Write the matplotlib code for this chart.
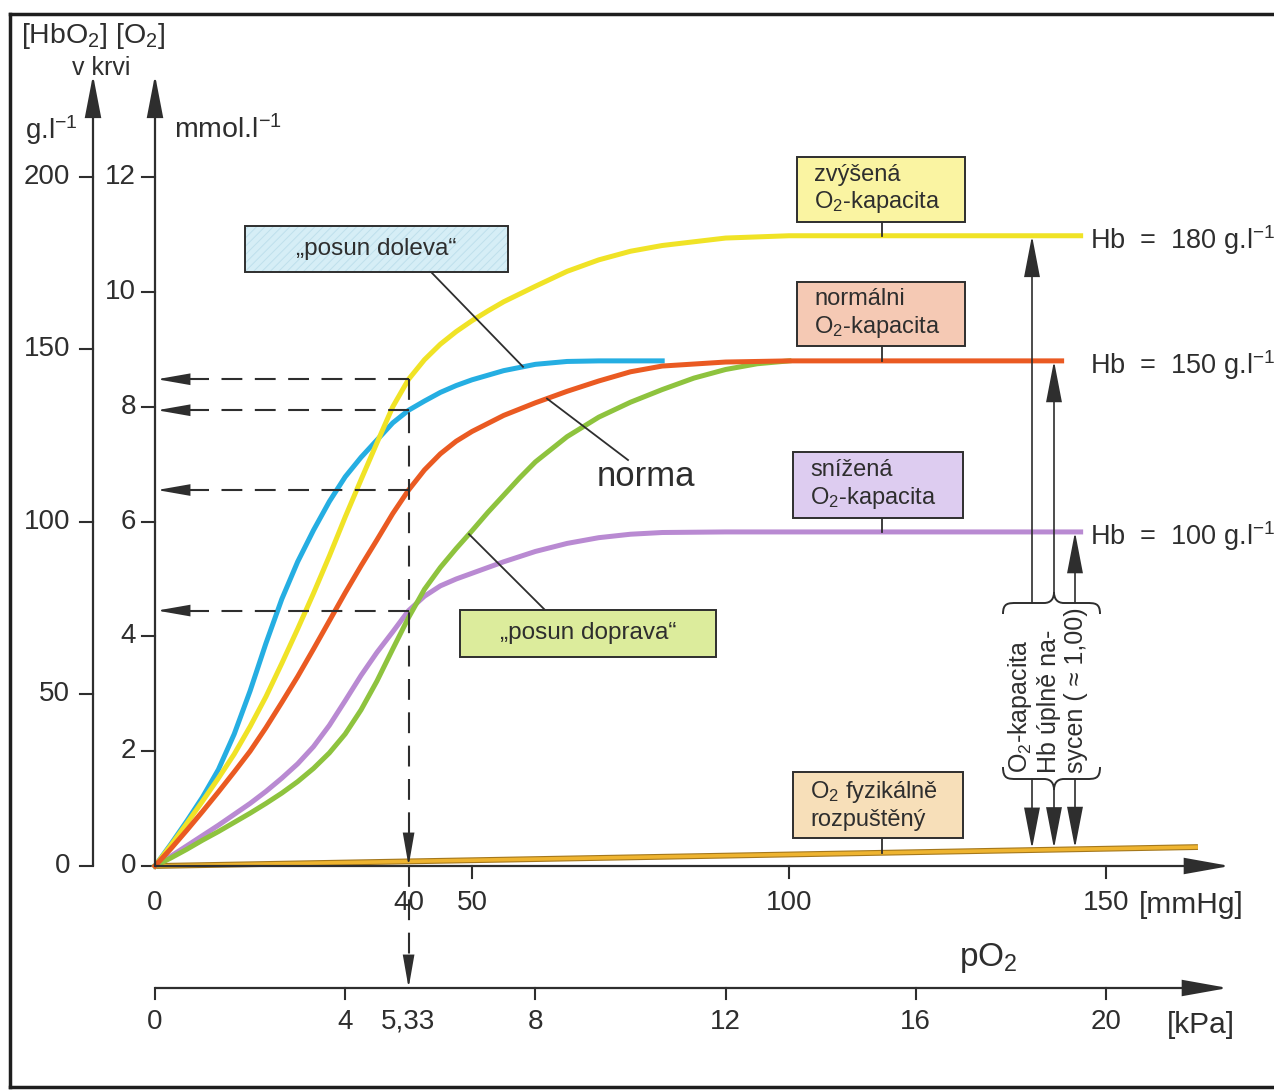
import numpy as np
import matplotlib
matplotlib.use("Agg")
import matplotlib.pyplot as plt
from matplotlib.patches import Rectangle, PathPatch
from matplotlib.path import Path

plt.rcParams['font.family'] = ['Liberation Sans', 'DejaVu Sans']
plt.rcParams['mathtext.fontset'] = 'custom'
plt.rcParams['mathtext.rm'] = 'Liberation Sans'
plt.rcParams['mathtext.it'] = 'Liberation Sans:italic'
plt.rcParams['mathtext.bf'] = 'Liberation Sans:bold'
plt.rcParams['hatch.linewidth'] = 0.7

# ---------------- data (pO2 in mmHg, O2 content in mmol/l) ----------------
doleva_x = [0, 2.5, 5, 7.5, 10, 12.5, 15, 17.5, 20, 22.5, 25, 27.5, 30, 32.5, 35,
            37.5, 40, 42.5, 45, 47.5, 50, 55, 60, 65, 70, 80]
doleva_y = [0, 0.38, 0.78, 1.2, 1.68, 2.3, 3.05, 3.88, 4.65, 5.3, 5.85, 6.35, 6.78,
            7.12, 7.42, 7.72, 7.94, 8.1, 8.25, 8.37, 8.47, 8.63, 8.74, 8.79, 8.8, 8.8]

zvysena_x = [0, 2.5, 5, 7.5, 10, 12.5, 15, 17.5, 20, 22.5, 25, 27.5, 30, 32.5, 35,
             37.5, 40, 42.5, 45, 47.5, 50, 52.5, 55, 60, 65, 70, 75, 80, 90, 100, 146]
zvysena_y = [0, 0.36, 0.74, 1.13, 1.53, 1.95, 2.43, 2.95, 3.53, 4.13, 4.75, 5.4,
             6.08, 6.73, 7.37, 8.0, 8.48, 8.82, 9.09, 9.31, 9.5, 9.67, 9.83, 10.1,
             10.36, 10.56, 10.71, 10.81, 10.94, 10.98, 10.98]

norma_x = [0, 2.5, 5, 7.5, 10, 12.5, 15, 17.5, 20, 22.5, 25, 27.5, 30, 32.5, 35,
           37.5, 40, 42.5, 45, 47.5, 50, 55, 60, 65, 70, 75, 80, 90, 100, 143]
norma_y = [0, 0.3, 0.62, 0.95, 1.29, 1.64, 2.0, 2.41, 2.85, 3.3, 3.78, 4.27, 4.76,
           5.23, 5.68, 6.14, 6.55, 6.9, 7.18, 7.4, 7.57, 7.85, 8.07, 8.27, 8.45,
           8.61, 8.71, 8.78, 8.8, 8.8]

doprava_x = [0, 2.5, 5, 7.5, 10, 12.5, 15, 17.5, 20, 22.5, 25, 27.5, 30, 32.5, 35,
             37.5, 40, 42.5, 45, 47.5, 50, 52.5, 55, 57.5, 60, 65, 70, 75, 80, 85,
             90, 95, 100]
doprava_y = [0, 0.14, 0.29, 0.45, 0.6, 0.76, 0.92, 1.09, 1.27, 1.47, 1.7, 1.97, 2.3,
             2.72, 3.22, 3.78, 4.33, 4.82, 5.2, 5.53, 5.84, 6.16, 6.46, 6.76, 7.04,
             7.48, 7.82, 8.08, 8.3, 8.5, 8.65, 8.75, 8.8]

snizena_x = [0, 2.5, 5, 7.5, 10, 12.5, 15, 17.5, 20, 22.5, 25, 27.5, 30, 32.5, 35,
             37.5, 40, 42.5, 45, 47.5, 50, 55, 60, 65, 70, 75, 80, 90, 146]
snizena_y = [0, 0.17, 0.35, 0.53, 0.71, 0.9, 1.09, 1.3, 1.53, 1.78, 2.08, 2.45, 2.88,
             3.32, 3.72, 4.08, 4.45, 4.7, 4.88, 5.0, 5.1, 5.3, 5.48, 5.62, 5.72,
             5.78, 5.81, 5.82, 5.82]

fyz_x = [0, 164.5]
fyz_y = [0, 0.33]

mmol_ticks = [0, 2, 4, 6, 8, 10, 12]
gl_ticks = [0, 50, 100, 150, 200]
GL_PER_MMOL = 200 / 12
mmhg_labels = [0, 40, 50, 100, 150]
mmhg_tickmarks = [50, 100, 150]
kpa_labels = [0, 4, 5.33, 8, 12, 16, 20]
kpa_tickmarks = [0, 4, 8, 12, 16, 20]
MMHG_PER_KPA = 7.5
pO2_ref = 40
hb_labels = ['Hb  =  180 g.l$^{-1}$', 'Hb  =  150 g.l$^{-1}$', 'Hb  =  100 g.l$^{-1}$']

# ---------------- colours ----------------
C_YEL = '#f0e326'
C_BLUE = '#25aee2'
C_RED = '#ea5a22'
C_GREEN = '#8ec33e'
C_PURP = '#b98ad2'
C_FYZ = '#eeb430'
C_FYZ_EDGE = '#a5781c'
C_INK = '#2e2e2e'

# ---------------- figure / pixel mapping ----------------
W, H = 1274, 1090
PX0, SXP = 155, 6.34
PY0, SYP = 866, 57.4


def dx(px):
    return (px - PX0) / SXP


def dy(py):
    return (PY0 - py) / SYP


fig = plt.figure(figsize=(W / 100, H / 100), dpi=100)
fig.patch.set_facecolor('white')
ax = fig.add_axes([0, 0, 1, 1])
ax.set_xlim(dx(0), dx(W))
ax.set_ylim(dy(H), dy(0))
ax.axis('off')


def arrow(x0, y0, x1, y1, hl=2.2, hw=0.45, lw=1.5, color=C_INK, z=6):
    ax.annotate('', xy=(x1, y1), xytext=(x0, y0),
                arrowprops=dict(arrowstyle=f'-|>,head_length={hl},head_width={hw}',
                                lw=lw, color=color, shrinkA=0, shrinkB=0,
                                mutation_scale=10, joinstyle='miter'),
                annotation_clip=False, zorder=z)


# frame of the scanned figure
ax.plot([dx(10), dx(10)], [dy(14), dy(1087)], color='#1e1e1e', lw=2.5, clip_on=False)
ax.plot([dx(10), dx(W + 5)], [dy(14), dy(14)], color='#1e1e1e', lw=2.5, clip_on=False)
ax.plot([dx(10), dx(W + 5)], [dy(1087), dy(1087)], color='#1e1e1e', lw=2.5, clip_on=False)

# ---------------- axes ----------------
TICK_FS = 20
x_gl = dx(93)
# mmol axis
arrow(0, 0, 0, dy(75), hl=2.6, hw=0.5, lw=1.6)
for v in mmol_ticks:
    ax.plot([dx(142), 0], [v, v], color=C_INK, lw=1.5)
    ax.text(dx(136), v, f'{v}', ha='right', va='center', fontsize=TICK_FS, color=C_INK)
# g/l axis
arrow(x_gl, 0, x_gl, dy(75), hl=2.6, hw=0.5, lw=1.6)
for g in gl_ticks:
    v = g / GL_PER_MMOL
    ax.plot([dx(80), x_gl], [v, v], color=C_INK, lw=1.5)
    ax.text(dx(70), v, f'{g}', ha='right', va='center', fontsize=TICK_FS, color=C_INK)

# mmHg axis
arrow(0, 0, dx(1230), 0, hl=2.8, hw=0.5, lw=1.6)
for t in mmhg_tickmarks:
    ax.plot([t, t], [0, dy(878)], color=C_INK, lw=1.5)
for t in mmhg_labels:
    ax.text(t, dy(903), f'{t}', ha='center', va='center', fontsize=TICK_FS, color=C_INK)
ax.text(dx(1139), dy(905), '[mmHg]', ha='left', va='center', fontsize=21.5, color=C_INK)

# kPa axis
y_kpa = dy(988)
arrow(0, y_kpa, dx(1228), y_kpa, hl=2.8, hw=0.5, lw=1.6)
for t in kpa_tickmarks:
    ax.plot([t * MMHG_PER_KPA] * 2, [y_kpa, dy(999)], color=C_INK, lw=1.5)
for t in kpa_labels:
    lab = f'{t:g}'.replace('.', ',')
    ax.text(t * MMHG_PER_KPA, dy(1022), lab, ha='center', va='center',
            fontsize=TICK_FS, color=C_INK)
ax.text(dx(1167), dy(1025), '[kPa]', ha='left', va='center', fontsize=21.5, color=C_INK)
ax.text(dx(988), dy(958), 'pO$_2$', ha='center', va='center', fontsize=24, color=C_INK)

# axis titles
ax.text(dx(21), dy(36), '[HbO$_2$] [O$_2$]', ha='left', va='center', fontsize=20.5, color=C_INK)
ax.text(dx(101), dy(68), 'v krvi', ha='center', va='center', fontsize=18, color=C_INK)
ax.text(dx(25), dy(130), 'g.l$^{-1}$', ha='left', va='center', fontsize=20, color=C_INK)
ax.text(dx(174), dy(130), 'mmol.l$^{-1}$', ha='left', va='center', fontsize=20.5, color=C_INK)

# ---------------- curves ----------------
LW = 3.6
ax.plot(fyz_x, fyz_y, color=C_FYZ_EDGE, lw=4.2, solid_capstyle='butt', zorder=3)
ax.plot(fyz_x, fyz_y, color=C_FYZ, lw=2.6, solid_capstyle='butt', zorder=3.1)
ax.plot(snizena_x, snizena_y, color=C_PURP, lw=LW, zorder=3.2, solid_joinstyle='round')
ax.plot(doprava_x, doprava_y, color=C_GREEN, lw=LW, zorder=3.3, solid_joinstyle='round')
ax.plot(doleva_x, doleva_y, color=C_BLUE, lw=LW, zorder=3.4, solid_joinstyle='round')
ax.plot(zvysena_x, zvysena_y, color=C_YEL, lw=LW, zorder=3.5, solid_joinstyle='round')
ax.plot(norma_x, norma_y, color=C_RED, lw=LW, zorder=3.6, solid_joinstyle='round')

# ---------------- dashed read-off lines at 40 mmHg ----------------
DASH = (0, (10, 6))
levels = [np.interp(pO2_ref, xs, ys) for xs, ys in
          [(zvysena_x, zvysena_y), (doleva_x, doleva_y),
           (norma_x, norma_y), (snizena_x, snizena_y)]]
for lv in levels:
    ax.plot([pO2_ref, dx(184)], [lv, lv], color=C_INK, lw=1.5, ls=DASH, zorder=4)
    arrow(dx(183), lv, dx(157), lv, hl=2.0, hw=0.35, lw=1.2, z=4)
top = max(levels)
ax.plot([pO2_ref, pO2_ref], [top, dy(845)], color=C_INK, lw=1.5, ls=DASH, zorder=4)
arrow(pO2_ref, dy(842), pO2_ref, 0, hl=2.0, hw=0.35, lw=1.2, z=4)
ax.plot([pO2_ref, pO2_ref], [0, dy(962)], color=C_INK, lw=1.5, ls=DASH, zorder=4)
arrow(pO2_ref, dy(962), pO2_ref, y_kpa, hl=2.0, hw=0.35, lw=1.2, z=4)


# ---------------- labelled boxes ----------------
def box(x0, y0, x1, y1, fc, text, centered=False, hatch=None, fs=17):
    ax.add_patch(Rectangle((dx(x0), dy(y1)), (x1 - x0) / SXP, (y1 - y0) / SYP,
                           facecolor=fc, edgecolor='none', zorder=5))
    if hatch:
        ax.add_patch(Rectangle((dx(x0), dy(y1)), (x1 - x0) / SXP, (y1 - y0) / SYP,
                               facecolor='none', edgecolor='#bfe0ec', lw=0,
                               hatch=hatch, zorder=5.1))
    ax.add_patch(Rectangle((dx(x0), dy(y1)), (x1 - x0) / SXP, (y1 - y0) / SYP,
                           facecolor='none', edgecolor=C_INK, lw=1.4, zorder=5.2))
    if centered:
        ax.text(dx((x0 + x1) / 2), dy((y0 + y1) / 2), text, ha='center', va='center',
                fontsize=fs, color=C_INK, zorder=6)
    else:
        ax.text(dx(x0 + 17), dy((y0 + y1) / 2), text, ha='left', va='center',
                fontsize=fs, color=C_INK, linespacing=1.2, zorder=6)


box(797, 157, 965, 222, '#faf4a2', 'zvýšená\nO$_2$-kapacita')
box(797, 282, 965, 346, '#f5c9b4', 'normálni\nO$_2$-kapacita')
box(793, 452, 963, 518, '#ddccf0', 'snížená\nO$_2$-kapacita')
box(793, 772, 963, 838, '#f7dfb9', 'O$_2$ fyzikálně\nrozpuštěný')
box(245, 226, 508, 272, '#d6eef6', '„posun doleva“', centered=True, hatch='////', fs=17.5)
box(460, 610, 716, 657, '#dcec9c', '„posun doprava“', centered=True, fs=17.5)

# connectors from boxes to curves
xc = dx(882)
for (b, xs, ys) in [(222, zvysena_x, zvysena_y), (346, norma_x, norma_y),
                    (518, snizena_x, snizena_y), (838, fyz_x, fyz_y)]:
    ax.plot([xc, xc], [dy(b), np.interp(xc, xs, ys)], color=C_INK, lw=1.3, zorder=4.5)

# leader lines
x_l = dx(523)
ax.plot([dx(432), x_l], [dy(273), np.interp(x_l, doleva_x, doleva_y)],
        color=C_INK, lw=1.3, zorder=4.5)
x_n = dx(547)
ax.plot([x_n, dx(628)], [np.interp(x_n, norma_x, norma_y), dy(460)],
        color=C_INK, lw=1.3, zorder=4.5)
ax.text(dx(646), dy(477), 'norma', ha='center', va='center', fontsize=25, color=C_INK)
x_p = dx(469)
ax.plot([x_p, dx(545)], [np.interp(x_p, doprava_x, doprava_y), dy(610)],
        color=C_INK, lw=1.3, zorder=4.5)

# Hb labels at the plateaus
for lab, ys in zip(hb_labels, [zvysena_y, norma_y, snizena_y]):
    ax.text(dx(1090), ys[-1] - 0.08, lab, ha='left', va='center', fontsize=19.5, color=C_INK)

# ---------------- O2 capacity arrows and brace ----------------
arrow_px = [1032, 1054, 1075]
curves = [(zvysena_x, zvysena_y), (norma_x, norma_y), (snizena_x, snizena_y)]
brace_top_y = [603, 593, 603]
brace_bot_y = [779, 789, 779]
for px, (xs, ys), bt, bb in zip(arrow_px, curves, brace_top_y, brace_bot_y):
    x = dx(px)
    arrow(x, dy(bt), x, np.interp(x, xs, ys), hl=2.6, hw=0.5, lw=1.2)
    arrow(x, dy(bb), x, np.interp(x, fyz_x, fyz_y) + 0.02, hl=2.6, hw=0.5, lw=1.2)


def brace_path(xl, xr, ye, ys, yc, xm):
    pts = [(xl, ye), (xl, ys), (xl + 5, ys), (xl + 14, ys),
           (xm - 10, ys), (xm - 10, ys), (xm - 10, ys),
           (xm - 3, ys), (xm, ys + (yc - ys) * 0.4), (xm, yc),
           (xm, ys + (yc - ys) * 0.4), (xm + 3, ys), (xm + 10, ys),
           (xr - 14, ys), (xr - 14, ys), (xr - 14, ys),
           (xr - 5, ys), (xr, ys), (xr, ye)]
    verts = [(dx(a), dy(b)) for a, b in pts]
    codes = [Path.MOVETO] + [Path.CURVE4] * 18
    return Path(verts, codes)


ax.add_patch(PathPatch(brace_path(1003, 1100, 614, 603, 592, 1054), fc='none',
                       ec=C_INK, lw=1.4, zorder=6))
ax.add_patch(PathPatch(brace_path(1003, 1100, 767, 779, 790, 1054), fc='none',
                       ec=C_INK, lw=1.4, zorder=6))
ax.text(dx(1047), dy(773), 'O$_2$-kapacita\nHb úplně na-\nsycen ( ≈ 1,00)',
        rotation=90, rotation_mode='anchor', ha='left', va='center',
        fontsize=18, linespacing=1.18, color=C_INK, zorder=6)

fig.savefig('out.png', dpi=100, facecolor='white')
